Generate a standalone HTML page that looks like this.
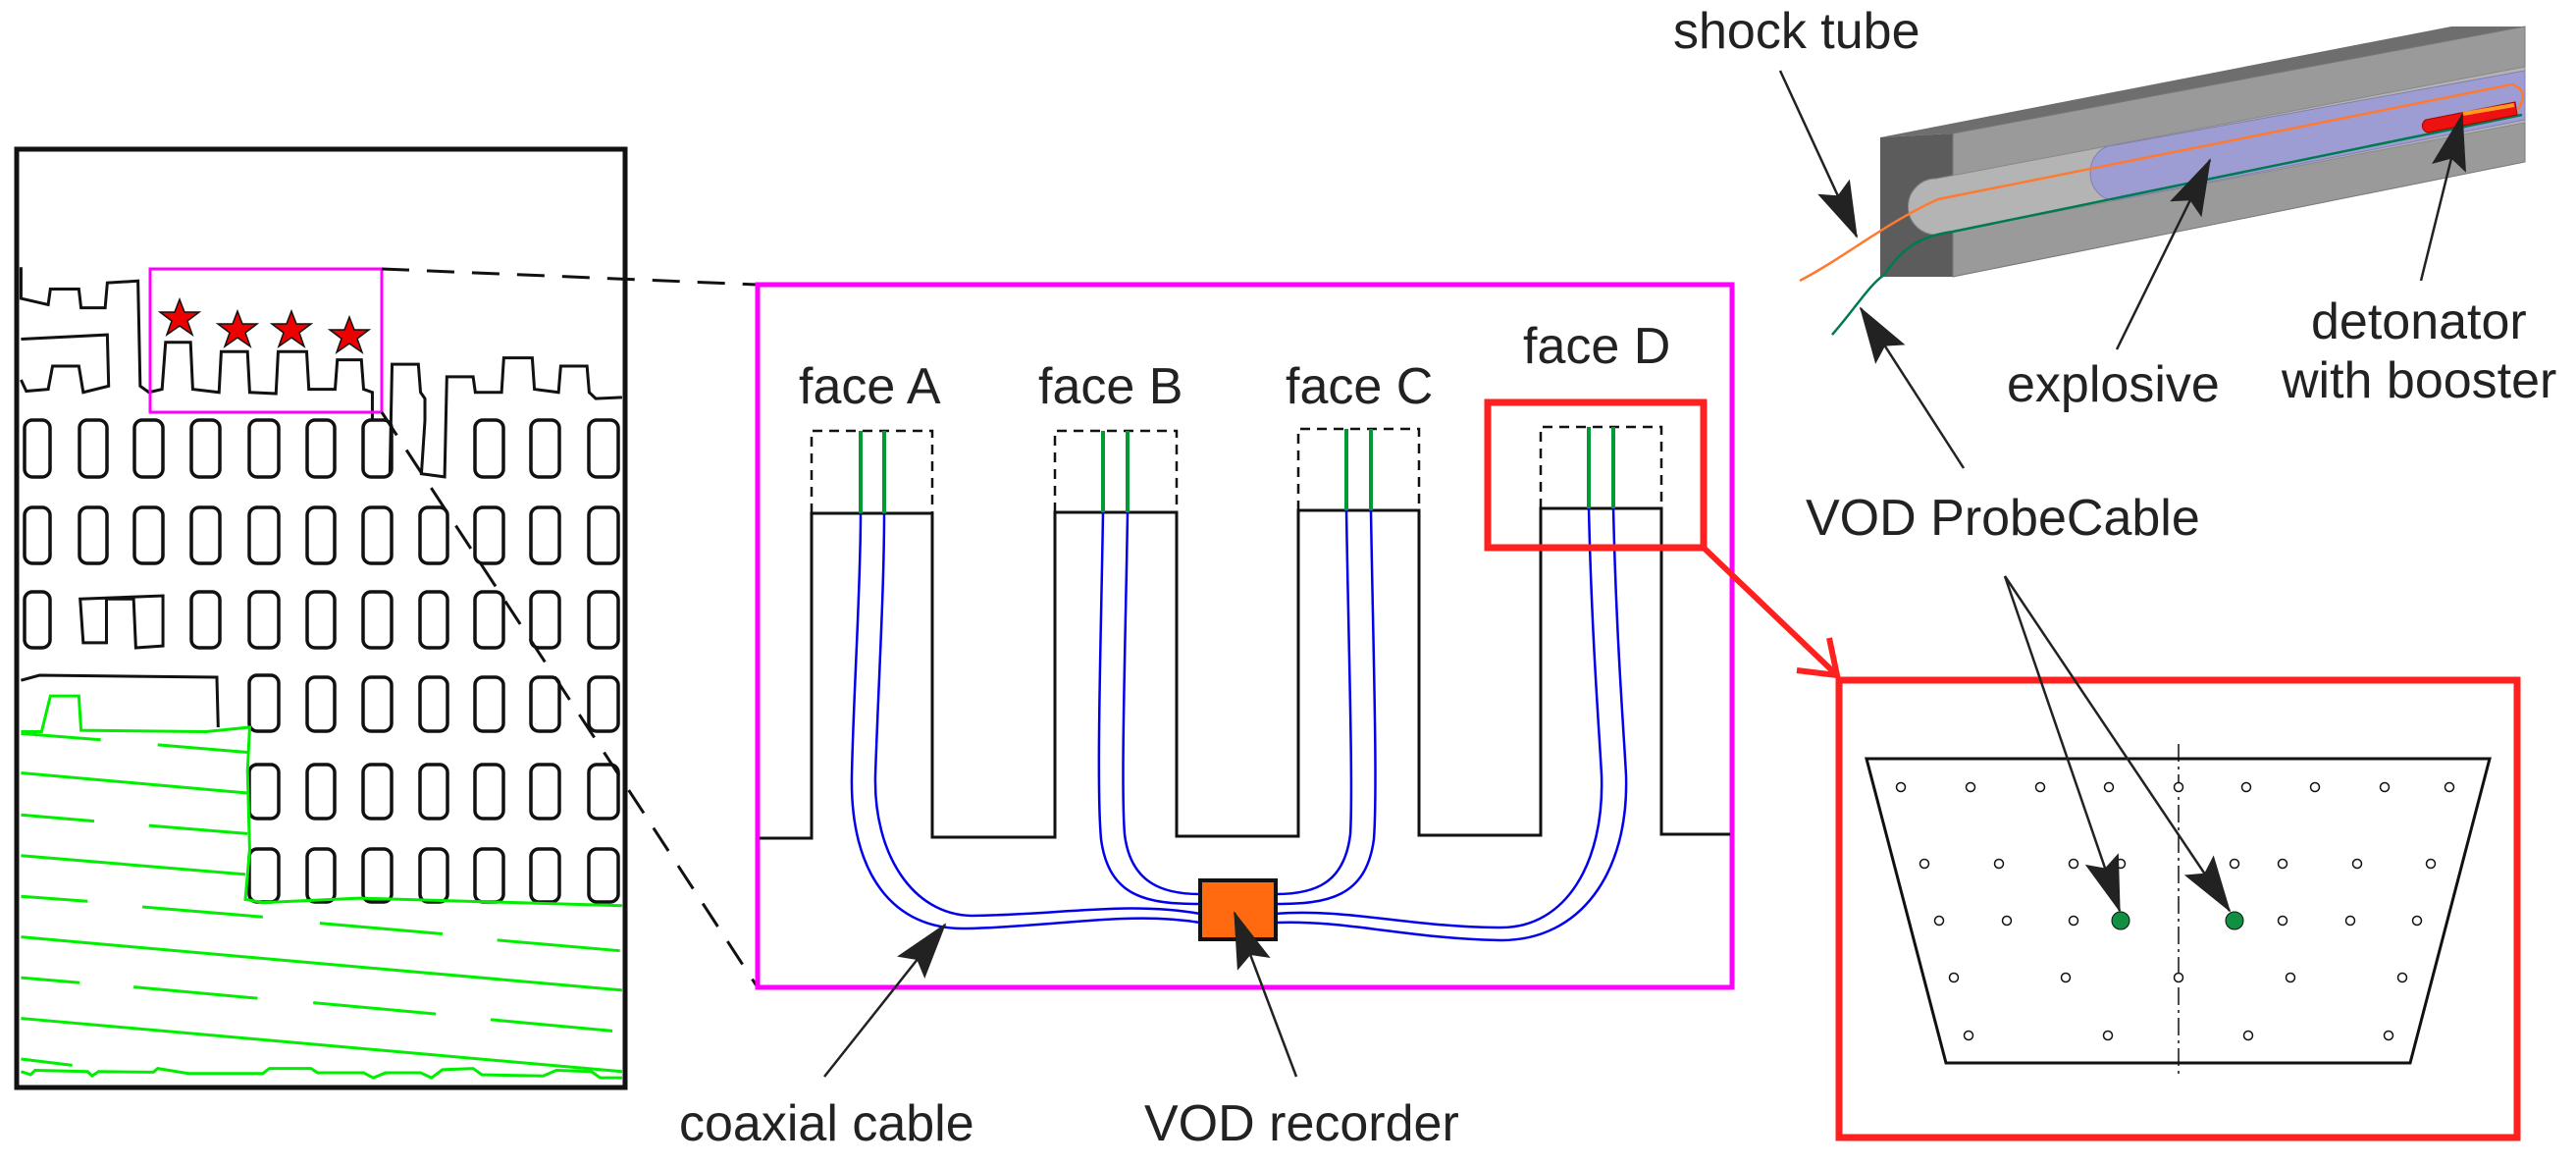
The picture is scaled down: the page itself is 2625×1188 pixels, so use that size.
<!DOCTYPE html>
<html><head><meta charset="utf-8"><style>
html,body{margin:0;padding:0;background:#fff;}
svg{display:block;}
text{font-family:"Liberation Sans",Arial,sans-serif;fill:#222;}
</style></head><body>
<svg width="2625" height="1188" viewBox="0 0 2625 1188" xmlns="http://www.w3.org/2000/svg">
<defs>
<marker id="ah" markerUnits="userSpaceOnUse" markerWidth="60" markerHeight="40" refX="56" refY="18" orient="auto">
<path d="M0,0 L58,18 L0,36 L10,18 Z" fill="#222"/>
</marker>
</defs>

<!-- LEFT PANEL -->
<rect x="17" y="152" width="620" height="956" fill="#fff" stroke="#111" stroke-width="5"/>
<g transform="translate(0,100) scale(0.4464,0.6378)" fill="none" stroke="#111" stroke-width="3" vector-effect="non-scaling-stroke">
<path vector-effect="non-scaling-stroke" d="M48,270 L48,320 L110,330 L115,305 L180,305 L185,335 L240,335 L245,295 L315,292 L320,460 L340,470 L370,465 L378,390 L435,390 L440,465 L500,470 L505,405 L565,405 L570,470 L630,472 L635,405 L700,405 L705,465 L765,465 L770,418 L825,418 L830,465 L850,470 L850,515"/>
<path vector-effect="non-scaling-stroke" d="M890,600 L895,425 L955,425 L960,470 L970,480 L970,515 L962,600 L1015,605 L1020,445 L1080,445 L1085,470 L1145,470 L1150,415 L1215,415 L1220,465 L1275,470 L1280,428 L1340,428 L1345,470 L1360,480 L1420,478"/>
<path vector-effect="non-scaling-stroke" d="M48,385 L245,378 L248,460 L190,470 L180,428 L120,428 L110,465 L60,468 L48,450"/>
<path vector-effect="non-scaling-stroke" d="M183,800 L372,795 L372,875 L310,878 L305,800 L243,800 L243,870 L190,870 Z"/>
<path vector-effect="non-scaling-stroke" d="M48,930 L90,922 L495,925 L498,1005"/>
</g>
<g fill="none" stroke="#111" stroke-width="3.5">
<g>
<rect x="25" y="428" width="26" height="58" rx="8"/><rect x="81" y="428" width="28" height="58" rx="8"/><rect x="137" y="428" width="29" height="58" rx="8"/><rect x="195" y="428" width="29" height="58" rx="8"/><rect x="254" y="428" width="30" height="58" rx="8"/><rect x="313" y="428" width="28" height="58" rx="8"/><rect x="370" y="428" width="29" height="58" rx="8"/><rect x="484" y="428" width="29" height="58" rx="8"/><rect x="541" y="428" width="29" height="58" rx="8"/><rect x="600" y="428" width="30" height="58" rx="8"/>
</g>
<g>
<rect x="25" y="517" width="26" height="57" rx="8"/><rect x="81" y="517" width="28" height="57" rx="8"/><rect x="137" y="517" width="29" height="57" rx="8"/><rect x="195" y="517" width="29" height="57" rx="8"/><rect x="254" y="517" width="30" height="57" rx="8"/><rect x="313" y="517" width="28" height="57" rx="8"/><rect x="370" y="517" width="29" height="57" rx="8"/><rect x="428" y="517" width="28" height="57" rx="8"/><rect x="484" y="517" width="29" height="57" rx="8"/><rect x="541" y="517" width="29" height="57" rx="8"/><rect x="600" y="517" width="30" height="57" rx="8"/>
</g>
<g>
<rect x="25" y="603" width="26" height="57" rx="8"/><rect x="195" y="603" width="29" height="57" rx="8"/><rect x="254" y="603" width="30" height="57" rx="8"/><rect x="313" y="603" width="28" height="57" rx="8"/><rect x="370" y="603" width="29" height="57" rx="8"/><rect x="428" y="603" width="28" height="57" rx="8"/><rect x="484" y="603" width="29" height="57" rx="8"/><rect x="541" y="603" width="29" height="57" rx="8"/><rect x="600" y="603" width="30" height="57" rx="8"/>
</g>
<g>
<rect x="254" y="688" width="30" height="57" rx="8"/><rect x="313" y="690" width="28" height="55" rx="8"/><rect x="370" y="690" width="29" height="55" rx="8"/><rect x="428" y="690" width="28" height="55" rx="8"/><rect x="484" y="690" width="29" height="55" rx="8"/><rect x="541" y="690" width="29" height="55" rx="8"/><rect x="600" y="690" width="30" height="55" rx="8"/>
</g>
<g>
<rect x="254" y="779" width="30" height="55" rx="8"/><rect x="313" y="779" width="28" height="55" rx="8"/><rect x="370" y="779" width="29" height="55" rx="8"/><rect x="428" y="779" width="28" height="55" rx="8"/><rect x="484" y="779" width="29" height="55" rx="8"/><rect x="541" y="779" width="29" height="55" rx="8"/><rect x="600" y="779" width="30" height="55" rx="8"/>
</g>
<g>
<rect x="254" y="865" width="30" height="54" rx="8"/><rect x="313" y="865" width="28" height="54" rx="8"/><rect x="370" y="865" width="29" height="54" rx="8"/><rect x="428" y="865" width="28" height="54" rx="8"/><rect x="484" y="865" width="29" height="54" rx="8"/><rect x="541" y="865" width="29" height="54" rx="8"/><rect x="600" y="865" width="30" height="54" rx="8"/>
</g>
</g>
<g transform="translate(0,100) scale(0.4464,0.6378)" fill="none" stroke="#00ee00">
<path vector-effect="non-scaling-stroke" stroke-width="3" d="M48,1012 L95,1012 L115,955 L180,955 L185,1010 L470,1012 L570,1005 L565,1075 L570,1200 L560,1280 L600,1285 L820,1278 L1420,1290"/>
<g stroke-width="3">
<path vector-effect="non-scaling-stroke" d="M48,1015 L230,1025 M360,1033 L565,1045 M48,1078 L565,1110 M48,1145 L215,1155 M340,1162 L565,1175 M48,1210 L560,1240 M48,1275 L200,1283 M325,1292 L600,1308 M48,1340 L1420,1425 M730,1318 L1010,1335 M1135,1345 L1415,1362 M48,1405 L182,1413 M305,1420 L588,1438 M715,1445 L995,1463 M1120,1472 L1398,1490 M48,1470 L1420,1555 M48,1535 L165,1545"/>
<path vector-effect="non-scaling-stroke" d="M48,1555 L70,1560 L80,1553 L200,1555 L210,1562 L225,1555 L350,1556 L360,1550 L430,1558 L600,1558 L615,1550 L710,1550 L725,1557 L830,1557 L852,1565 L880,1557 L960,1557 L985,1565 L1010,1552 L1080,1550 L1100,1560 L1240,1562 L1270,1553 L1350,1555 L1370,1565 L1420,1565"/>
</g>
</g>
<rect x="153" y="274" width="236" height="146" fill="none" stroke="#ff00ff" stroke-width="3"/>
<g fill="#ee0000" stroke="#111" stroke-width="1.5">
<path d="M183,305 L188,318 L203,318 L191,327 L196,341 L183,332 L170,341 L175,327 L163,318 L178,318 Z"/>
<path d="M242,317 L247,330 L262,330 L250,339 L255,353 L242,344 L229,353 L234,339 L222,330 L237,330 Z"/>
<path d="M297,317 L302,330 L317,330 L305,339 L310,353 L297,344 L284,353 L289,339 L277,330 L292,330 Z"/>
<path d="M356,323 L361,336 L376,336 L364,345 L369,359 L356,350 L343,359 L348,345 L336,336 L351,336 Z"/>
</g>
<g stroke="#111" stroke-width="3" stroke-dasharray="28,18" fill="none">
<line x1="389" y1="274" x2="772" y2="290"/>
<line x1="389" y1="420" x2="772" y2="1006"/>
</g>

<!-- MIDDLE PANEL -->
<rect x="772" y="290" width="993" height="716" fill="none" stroke="#ff00ff" stroke-width="5"/>
<path d="M774,854 L827,854 L827,523 L950,523 L950,853 L1075,853 L1075,522 L1199,522 L1199,852 L1323,852 L1323,520 L1446,520 L1446,851 L1570,851 L1570,518 L1693,518 L1693,850 L1763,850" fill="none" stroke="#111" stroke-width="3"/>
<g fill="none" stroke="#111" stroke-width="2.5" stroke-dasharray="10,7">
<path d="M827,523 L827,439 L950,439 L950,523"/>
<path d="M1075,522 L1075,439 L1199,439 L1199,522"/>
<path d="M1323,520 L1323,437 L1446,437 L1446,520"/>
<path d="M1570,518 L1570,435 L1693,435 L1693,518"/>
</g>
<g stroke="#009933" stroke-width="4">
<line x1="877" y1="439" x2="877" y2="523"/><line x1="901" y1="439" x2="901" y2="523"/>
<line x1="1124" y1="439" x2="1124" y2="522"/><line x1="1149" y1="439" x2="1149" y2="522"/>
<line x1="1372" y1="437" x2="1372" y2="520"/><line x1="1397" y1="437" x2="1397" y2="520"/>
<line x1="1619" y1="435" x2="1619" y2="518"/><line x1="1644" y1="435" x2="1644" y2="518"/>
</g>
<g fill="none" stroke="#0000ee" stroke-width="2.5">
<path d="M877,523 C877,600 870,700 868,790 C866,890 910,948 985,946 C1080,944 1150,928 1223,940"/>
<path d="M901,523 C901,600 895,700 892,790 C890,870 930,932 990,933 C1080,932 1150,918 1223,931"/>
<path d="M1124,522 C1122,650 1117,800 1122,855 C1130,915 1170,921 1223,921"/>
<path d="M1149,522 C1147,650 1142,800 1146,850 C1152,900 1185,911 1223,911"/>
<path d="M1397,520 C1399,650 1404,800 1400,855 C1392,915 1352,921 1300,921"/>
<path d="M1372,520 C1374,650 1379,800 1376,850 C1370,900 1340,911 1300,911"/>
<path d="M1644,518 C1647,650 1655,750 1657,790 C1660,890 1610,958 1530,958 C1440,957 1370,937 1300,940"/>
<path d="M1619,518 C1622,650 1630,750 1632,790 C1635,880 1595,945 1530,945 C1440,945 1370,925 1300,931"/>
</g>
<rect x="1223" y="897" width="77" height="60" fill="#ff6a10" stroke="#111" stroke-width="4"/>
<g font-size="52">
<text x="814" y="411">face A</text>
<text x="1058" y="411">face B</text>
<text x="1310" y="411">face C</text>
<text x="1552" y="370">face D</text>
<text x="692" y="1162">coaxial cable</text>
<text x="1166" y="1162">VOD recorder</text>
</g>
<line x1="840" y1="1097" x2="963" y2="942" stroke="#222" stroke-width="2.5" marker-end="url(#ah)"/>
<line x1="1321" y1="1097" x2="1258" y2="930" stroke="#222" stroke-width="2.5" marker-end="url(#ah)"/>
<rect x="1516" y="410" width="220" height="148" fill="none" stroke="#ff2020" stroke-width="7"/>
<path d="M1736,558 L1872,688" stroke="#ff2020" stroke-width="6" fill="none"/>
<path d="M1831,683 L1872,688 L1864,650" stroke="#ff2020" stroke-width="6" fill="none"/>

<!-- RIGHT BOTTOM PANEL -->
<rect x="1874" y="693" width="691" height="466" fill="none" stroke="#ff2020" stroke-width="7"/>
<path d="M1902,773 L2537,773 L2456,1083 L1983,1083 Z" fill="none" stroke="#111" stroke-width="3"/>
<line x1="2220" y1="758" x2="2220" y2="1099" stroke="#111" stroke-width="1.5" stroke-dasharray="18,5,3,5"/>
<g fill="#fff" stroke="#111" stroke-width="1.5">
<circle cx="1937" cy="802" r="4.5"/><circle cx="2008" cy="802" r="4.5"/><circle cx="2079" cy="802" r="4.5"/><circle cx="2149" cy="802" r="4.5"/><circle cx="2220" cy="802" r="4.5"/><circle cx="2289" cy="802" r="4.5"/><circle cx="2359" cy="802" r="4.5"/><circle cx="2430" cy="802" r="4.5"/><circle cx="2496" cy="802" r="4.5"/>
<circle cx="1961" cy="880" r="4.5"/><circle cx="2037" cy="880" r="4.5"/><circle cx="2113" cy="880" r="4.5"/><circle cx="2161" cy="880" r="4.5"/><circle cx="2277" cy="880" r="4.5"/><circle cx="2326" cy="880" r="4.5"/><circle cx="2402" cy="880" r="4.5"/><circle cx="2477" cy="880" r="4.5"/>
<circle cx="1976" cy="938" r="4.5"/><circle cx="2045" cy="938" r="4.5"/><circle cx="2113" cy="938" r="4.5"/><circle cx="2326" cy="938" r="4.5"/><circle cx="2395" cy="938" r="4.5"/><circle cx="2463" cy="938" r="4.5"/>
<circle cx="1991" cy="996" r="4.5"/><circle cx="2105" cy="996" r="4.5"/><circle cx="2220" cy="996" r="4.5"/><circle cx="2334" cy="996" r="4.5"/><circle cx="2448" cy="996" r="4.5"/>
<circle cx="2006" cy="1055" r="4.5"/><circle cx="2148" cy="1055" r="4.5"/><circle cx="2291" cy="1055" r="4.5"/><circle cx="2434" cy="1055" r="4.5"/>
</g>
<g fill="#109040" stroke="#111" stroke-width="1">
<circle cx="2161" cy="938" r="9"/><circle cx="2277" cy="938" r="9"/>
</g>
<line x1="2043" y1="587" x2="2160" y2="928" stroke="#222" stroke-width="2.5" marker-end="url(#ah)"/>
<line x1="2043" y1="587" x2="2272" y2="928" stroke="#222" stroke-width="2.5" marker-end="url(#ah)"/>

<!-- TOP RIGHT BLOCK -->
<polygon points="1916,140 2498,27 2573,27 1990,136" fill="#6e6e6e"/>
<polygon points="1916,140 1990,136 1990,282 1916,282" fill="#5c5c5c"/>
<polygon points="1990,136 2573,27 2573,165 1990,282" fill="#9a9a9a" stroke="#777" stroke-width="1"/>
<path d="M1973,182 L2573,68 L2573,125 L1973,239 A28,28 0 0 1 1973,182 Z" fill="#b4b4b4" stroke="#888" stroke-width="1"/>
<path d="M2155,148 L2573,72 L2573,122 L2155,204 A25,28 0 0 1 2155,148 Z" fill="#9d9dd4" stroke="#8080b0" stroke-width="1"/>
<path d="M1834,286 C1880,262 1920,228 1975,203 L2560,86 Q2578,92 2566,112" fill="none" stroke="#ff7a30" stroke-width="2.5"/>
<path d="M1867,341 C1890,315 1905,290 1920,280 C1940,250 1960,240 1990,236 L2570,117" fill="none" stroke="#007a50" stroke-width="2.5"/>
<path d="M2472,122 L2563,104 L2565,117 L2474,135 A7,7 0 0 1 2472,122 Z" fill="#ee1111" stroke="#aa0000" stroke-width="1"/>
<line x1="2510" y1="116" x2="2562" y2="107" stroke="#ff9a20" stroke-width="4"/>
<g font-size="52">
<text x="1705" y="49">shock tube</text>
<text x="2045" y="409">explosive</text>
<text x="2355" y="345">detonator</text>
<text x="2325" y="405">with booster</text>
<text x="1840" y="545">VOD ProbeCable</text>
</g>
<line x1="1814" y1="72" x2="1892" y2="241" stroke="#222" stroke-width="2.5" marker-end="url(#ah)"/>
<line x1="2157" y1="356" x2="2252" y2="163" stroke="#222" stroke-width="2.5" marker-end="url(#ah)"/>
<line x1="2467" y1="286" x2="2509" y2="117" stroke="#222" stroke-width="2.5" marker-end="url(#ah)"/>
<line x1="2001" y1="477" x2="1896" y2="314" stroke="#222" stroke-width="2.5" marker-end="url(#ah)"/>
</svg>
</body></html>
